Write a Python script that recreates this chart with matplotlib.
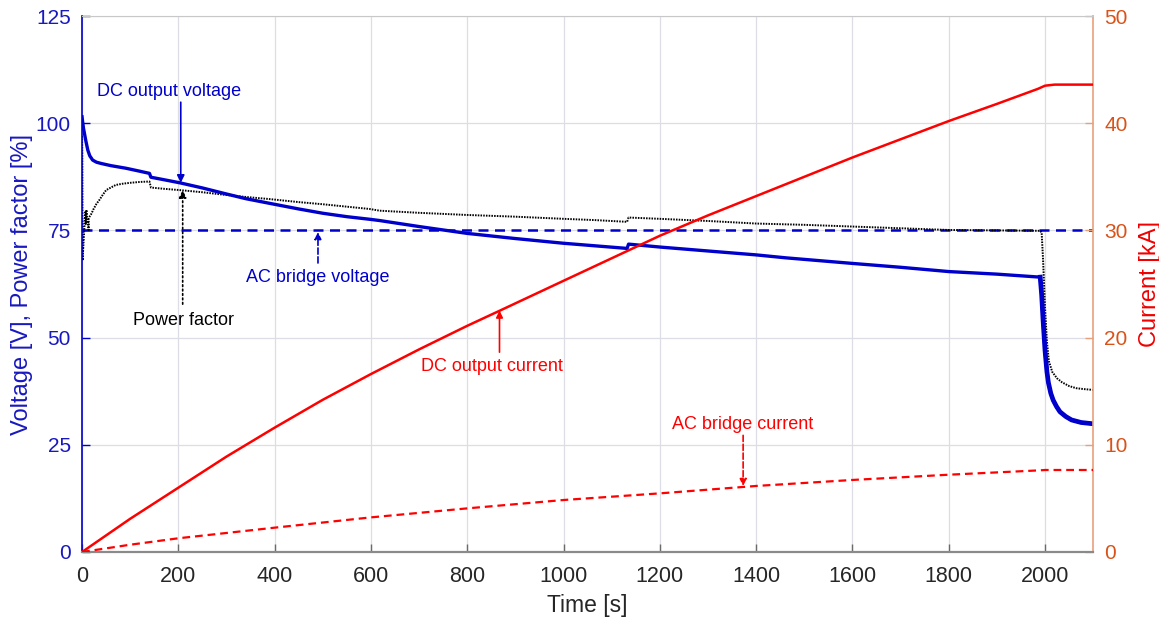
import matplotlib
matplotlib.use("Agg")
import matplotlib.pyplot as plt

plt.rcParams['font.family'] = ['Liberation Sans', 'DejaVu Sans']

# ---------------- data ----------------
dc_v_t = [0, 1, 3, 5, 8, 12, 16, 22, 30, 40, 60, 91, 120, 140, 143, 171, 203, 250, 296,
          340, 390, 450, 500, 550, 597, 618, 700, 800, 900, 1000, 1066, 1132, 1135, 1202,
          1300, 1399, 1462, 1600, 1700, 1800, 1900, 1990, 1993, 1996, 2000, 2004, 2007,
          2012, 2017, 2024, 2031, 2043, 2055, 2075, 2100]
dc_v = [101.5, 100.5, 98.8, 97.6, 95.8, 93.7, 92.4, 91.4, 90.9, 90.6, 90.1, 89.5, 88.8,
        88.3, 87.4, 86.8, 86.1, 84.9, 83.6, 82.4, 81.3, 80.0, 79.0, 78.2, 77.6, 77.3, 75.9,
        74.3, 73.1, 72.0, 71.4, 70.8, 71.8, 71.1, 70.2, 69.3, 68.6, 67.3, 66.4, 65.4, 64.8,
        64.1, 60.0, 54.0, 47.0, 42.0, 39.5, 37.0, 35.4, 33.9, 32.7, 31.6, 30.8, 30.2, 29.9]

pf_t = [0, 0.5, 1.2, 2, 3, 4.5, 6, 7, 8, 9, 10.5, 12, 13, 13.5, 14, 16, 19, 24, 30, 36, 43,
        50, 60, 70, 85, 100, 120, 140, 143, 170, 203, 250, 296, 340, 390, 450, 500, 597, 618,
        700, 800, 900, 1000, 1066, 1132, 1135, 1200, 1300, 1400, 1500, 1600, 1700, 1800,
        1900, 1990, 1993, 1996, 2000, 2004, 2008, 2015, 2025, 2035, 2050, 2065, 2080, 2100]
pf = [97, 92, 68, 70, 72, 75, 78, 79.5, 76.5, 79.8, 78, 77.5, 76, 75.1, 77.8, 78.3, 78.8,
      80.0, 81.2, 82.1, 83.3, 84.4, 85.0, 85.6, 85.9, 86.1, 86.3, 86.4, 85.0, 84.7, 84.4,
      83.9, 83.3, 82.8, 82.3, 81.6, 81.1, 80.0, 79.6, 79.1, 78.6, 78.2, 77.7, 77.4, 77.0,
      78.0, 77.7, 77.2, 76.6, 76.3, 75.9, 75.5, 75.1, 75.0, 74.9, 74.5, 68.0, 57.0, 49.0,
      44.5, 42.0, 40.5, 39.6, 38.7, 38.2, 38.0, 37.8]

ac_v_t = [0, 2100]
ac_v = [75, 75]

dc_i_t = [0, 100, 200, 300, 400, 500, 600, 700, 800, 867, 1000, 1100, 1200, 1300, 1400,
          1500, 1600, 1700, 1800, 1900, 1985, 2000, 2020, 2100]
dc_i = [0, 3.1, 6.0, 8.9, 11.6, 14.2, 16.6, 18.9, 21.1, 22.5, 25.3, 27.4, 29.5, 31.4, 33.2,
        35.0, 36.8, 38.5, 40.2, 41.8, 43.2, 43.5, 43.6, 43.6]

ac_i_t = [0, 100, 200, 400, 600, 800, 1000, 1200, 1400, 1600, 1800, 1990, 2000, 2100]
ac_i = [0, 0.68, 1.28, 2.27, 3.23, 4.07, 4.85, 5.47, 6.16, 6.72, 7.21, 7.62, 7.65, 7.65]

x_ticks = list(range(0, 2001, 200))
left_ticks = [0, 25, 50, 75, 100, 125]
right_ticks = [0, 10, 20, 30, 40, 50]

# ---------------- style ----------------
BLUE = '#0000CC'
LBLUE = '#1818C0'
RED = '#FF0000'
ORANGE = '#D95319'
GRAY = '#262626'

fig = plt.figure(figsize=(11.59, 6.18), dpi=100)
ax = fig.add_axes([0.0708, 0.1068, 0.8724, 0.8673])
ax2 = ax.twinx()

ax.set_xlim(0, 2100)
ax.set_ylim(0, 125)
ax2.set_ylim(0, 50)
ax.set_xticks(x_ticks)
ax.set_yticks(left_ticks)
ax2.set_yticks(right_ticks)

ax.grid(True, color='#DDDDE6', linewidth=0.9)
ax.set_axisbelow(True)

# voltage-side lines
ax.plot(ac_v_t, ac_v, color=BLUE, lw=1.8, dashes=(4, 2.6), zorder=3)
ax.plot(pf_t, pf, color='black', lw=1.4, ls=(0, (0.8, 0.6)), zorder=4)
ax.plot(dc_v_t, dc_v, color=BLUE, lw=2.4, zorder=5)
tail = dc_v_t.index(1990)
ax.plot(dc_v_t[tail:], dc_v[tail:], color=BLUE, lw=3.4, zorder=5)

# current-side lines
ax2.plot(dc_i_t, dc_i, color=RED, lw=1.8, zorder=3)
ax2.plot(ac_i_t, ac_i, color=RED, lw=1.6, dashes=(3.5, 2.2), zorder=3)

# spines
for sp in ['left', 'right', 'top', 'bottom']:
    ax.spines[sp].set_visible(False)
ax2.spines['left'].set_color(BLUE)
ax2.spines['left'].set_linewidth(1.2)
ax2.spines['right'].set_color('#E7A07C')
ax2.spines['right'].set_linewidth(1.2)
ax2.spines['bottom'].set_color('#8A8A8A')
ax2.spines['bottom'].set_linewidth(1.6)
ax2.spines['top'].set_color('#C8C8C8')
ax2.spines['top'].set_linewidth(0.8)

ax.tick_params(axis='x', direction='in', length=6, width=1.0, color='#6A6A6A',
               labelsize=15.5, labelcolor=GRAY, pad=10)
ax.tick_params(axis='y', direction='in', length=6, width=1.0, color=BLUE,
               labelsize=15, labelcolor=LBLUE, pad=8)
ax2.tick_params(axis='y', direction='in', length=6, width=1.0, color='#E7A07C',
                labelsize=15, labelcolor=ORANGE, pad=8)

ax.set_xlabel('Time [s]', fontsize=16.5, color=GRAY, labelpad=5)
ax.set_ylabel('Voltage [V], Power factor [%]', fontsize=17, color=LBLUE)
ax.yaxis.set_label_coords(-0.0485, 0.5)
ax2.set_ylabel('Current [kA]', fontsize=17, color='#F00000', labelpad=8)

# ---------------- annotations ----------------
fs = 13
ax.annotate('', xy=(205, 86.1), xytext=(205, 104.9),
            arrowprops=dict(arrowstyle='-|>', color=BLUE, lw=1.2, mutation_scale=11,
                            shrinkA=0, shrinkB=0), zorder=6)
ax.text(180, 107.5, 'DC output voltage', color=BLUE, fontsize=fs, ha='center', va='center')

ax.annotate('', xy=(209, 84.4), xytext=(209, 57.8),
            arrowprops=dict(arrowstyle='-|>', color='black', lw=1.2, ls=':',
                            mutation_scale=11, shrinkA=0, shrinkB=0), zorder=6)
ax.text(210, 54.1, 'Power factor', color='black', fontsize=fs, ha='center', va='center')

ax.annotate('', xy=(490, 74.6), xytext=(490, 67.4),
            arrowprops=dict(arrowstyle='-|>', color=BLUE, lw=1.2, ls='--',
                            mutation_scale=10, shrinkA=0, shrinkB=0), zorder=6)
ax.text(490, 64.0, 'AC bridge voltage', color=BLUE, fontsize=fs, ha='center', va='center')

ax.annotate('', xy=(867, 56.3), xytext=(867, 46.6),
            arrowprops=dict(arrowstyle='-|>', color=RED, lw=1.2,
                            mutation_scale=10, shrinkA=0, shrinkB=0), zorder=6)
ax.text(852, 43.3, 'DC output current', color=RED, fontsize=fs, ha='center', va='center')

ax.annotate('', xy=(1373, 15.4), xytext=(1373, 27.2),
            arrowprops=dict(arrowstyle='-|>', color=RED, lw=1.2, ls='--',
                            mutation_scale=10, shrinkA=0, shrinkB=0), zorder=6)
ax.text(1372, 29.7, 'AC bridge current', color=RED, fontsize=fs, ha='center', va='center')

fig.savefig('out.png', dpi=100)
